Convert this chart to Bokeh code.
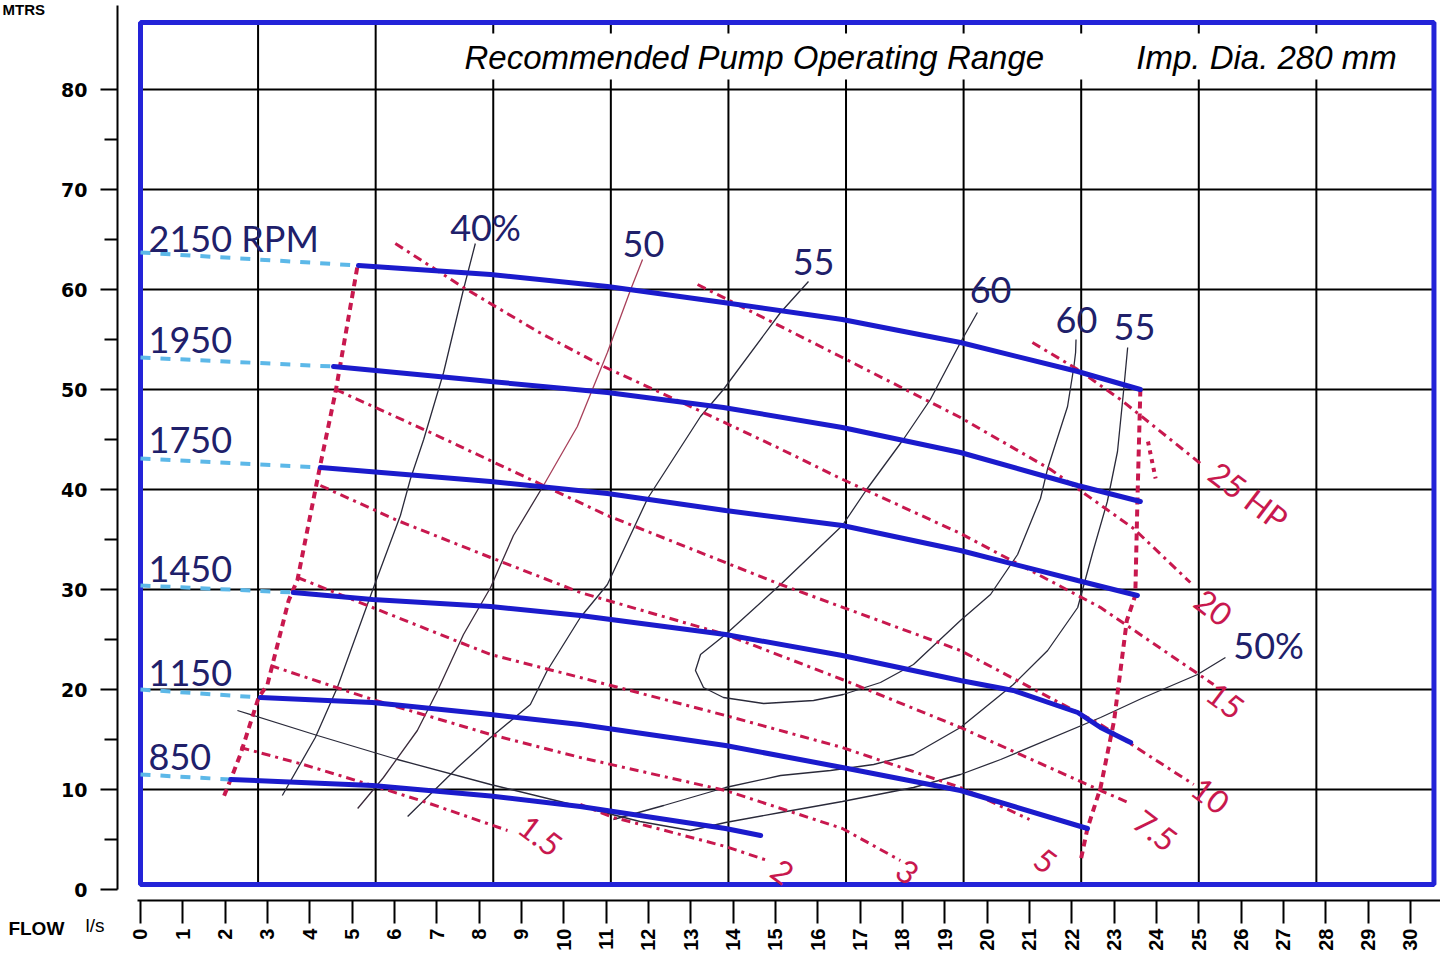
import math
from bokeh.plotting import figure
from bokeh.models import Range1d, FixedTicker
from bokeh.core.properties import value
from bokeh.embed import file_html
from bokeh.resources import INLINE

# ---------------- data (flow l/s, head m) ----------------
FLOW_TICKS = list(range(0, 31))
HEAD_TICKS = [0, 10, 20, 30, 40, 50, 60, 70, 80]
HEAD_MINOR = [5, 15, 25, 35, 45, 55, 65, 75]
GRID_M3H = [10, 20, 30, 40, 50, 60, 70, 80, 90, 100]   # vertical grid, m3/h
GRID_HEAD = [10, 20, 30, 40, 50, 60, 70, 80]
FRAME_M3H = 110

RPM_LABELS = ["2150 RPM", "1950", "1750", "1450", "1150", "850"]
RPM_LABEL_HEAD = [65.2, 55.0, 45.0, 32.1, 21.7, 13.3]

Q2150 = [5.15, 8.27, 11.03, 13.77, 16.58, 19.37, 22.14, 23.62]
H2150 = [62.4, 61.5, 60.3, 58.7, 57.0, 54.7, 51.8, 50.0]
Q1950 = [4.56, 8.27, 11.03, 13.77, 16.58, 19.37, 22.14, 23.62]
H1950 = [52.3, 50.8, 49.7, 48.2, 46.2, 43.7, 40.4, 38.8]
Q1750 = [4.25, 8.27, 11.03, 13.82, 16.58, 19.37, 22.14, 23.55]
H1750 = [42.2, 40.8, 39.6, 37.9, 36.4, 33.9, 30.9, 29.4]
Q1450 = [3.61, 5.48, 8.27, 10.39, 13.82, 16.58, 19.37, 20.62, 22.14, 22.68, 23.39]
H1450 = [29.7, 29.0, 28.3, 27.4, 25.5, 23.4, 20.9, 19.9, 17.7, 16.2, 14.7]
Q1150 = [2.83, 5.48, 8.27, 10.39, 13.82, 16.58, 19.37, 22.37]
H1150 = [19.2, 18.7, 17.5, 16.5, 14.4, 12.2, 9.9, 6.1]
Q850 = [2.13, 5.48, 8.27, 10.39, 13.82, 14.65]
H850 = [11.0, 10.4, 9.35, 8.3, 6.1, 5.4]
H_SHUTOFF = [63.7, 53.2, 43.1, 30.4, 20.0, 11.5]   # dashed part, head at zero flow

# operating range boundaries
QMIN = [5.12, 4.61, 4.25, 3.71, 3.5, 3.0, 2.79, 2.36, 2.13, 1.94]
HMIN = [62.2, 49.8, 42.5, 31.0, 28.9, 20.5, 19.2, 13.5, 11.0, 9.0]
QMAX = [23.62, 23.55, 23.5, 23.3, 23.0, 22.68, 22.37, 22.2]
HMAX = [50.0, 38.8, 29.4, 26.9, 16.9, 10.2, 6.1, 2.7]
QMAX2 = [23.8, 23.98]
HMAX2 = [44.8, 41.1]

# power lines (HP)
HP_LABELS = ["1.5", "2", "3", "5", "7.5", "10", "15", "20", "25 HP"]
Q_HP = [
    [2.36, 3.85, 5.48, 6.69, 8.67],
    [10.39, 11.17, 12.21, 13.82, 14.81],
    [3.07, 5.48, 8.27, 10.39, 13.82, 16.58, 17.95],
    [3.71, 5.48, 8.27, 10.39, 13.82, 16.58, 19.37, 21.0],
    [4.25, 6.07, 8.27, 10.39, 13.82, 16.58, 19.37, 22.68, 23.39],
    [4.61, 6.85, 11.03, 15.12, 19.37, 22.68, 24.88],
    [6.02, 7.63, 9.38, 10.94, 12.69, 14.95, 16.54, 19.37, 22.68, 25.35],
    [13.16, 16.58, 19.37, 21.5, 23.46, 24.8],
    [21.07, 22.14, 23.15, 25.04],
]
H_HP = [
    [14.2, 12.5, 10.4, 8.8, 5.9],
    [8.5, 7.2, 6.1, 4.3, 2.9],
    [22.4, 19.0, 15.5, 13.2, 9.9, 6.1, 2.9],
    [31.2, 28.2, 23.5, 21.2, 17.4, 14.2, 10.2, 7.0],
    [40.4, 36.9, 33.2, 29.7, 25.5, 21.0, 16.2, 9.9, 8.6],
    [50.0, 45.7, 37.4, 30.5, 23.9, 16.5, 10.5],
    [64.6, 60.2, 55.8, 52.3, 48.9, 44.4, 41.1, 35.6, 28.2, 20.5],
    [60.5, 53.2, 47.2, 42.0, 36.1, 30.7],
    [54.7, 52.0, 49.0, 42.6],
]
HP_LABEL_Q = [9.45, 15.17, 18.12, 21.38, 23.98, 25.28, 25.63, 25.35, 26.18]
HP_LABEL_H = [5.4, 1.8, 1.8, 2.9, 5.9, 9.4, 18.9, 28.2, 39.4]

# efficiency contours
EFF_LABELS = ["40%", "50", "55", "60", "60", "55", "50%"]
EFF_LABEL_Q = [8.15, 11.88, 15.9, 20.08, 22.11, 23.48, 26.65]
EFF_LABEL_H = [66.3, 64.6, 62.8, 60.0, 57.0, 56.3, 24.5]
Q_E40 = [7.91, 7.63, 7.16, 6.69, 6.38, 6.14, 5.48, 4.65, 4.13, 3.35]
H_E40 = [64.6, 60.0, 51.7, 45.0, 41.1, 37.4, 29.9, 20.2, 15.2, 9.4]
Q_E50 = [11.86, 11.58, 11.03, 10.32, 9.52, 8.81, 8.27, 7.63, 7.02, 6.54, 5.74, 5.13]
H_E50 = [63.0, 60.0, 53.7, 46.3, 40.4, 35.4, 30.2, 25.5, 19.9, 15.9, 11.2, 8.1]
Q_E55 = [15.78, 15.12, 13.77, 13.23, 11.98, 11.03, 10.39, 9.61, 9.21, 8.27, 7.49, 6.31]
H_E55 = [60.8, 57.7, 50.0, 47.3, 39.1, 30.5, 27.2, 21.9, 18.5, 15.2, 12.2, 7.3]
Q_E60 = [19.77, 19.37, 18.66, 18.02, 17.17, 16.58, 15.12, 13.82, 13.23, 13.11, 13.3, 13.77,
         14.72, 15.9, 16.6, 17.48, 18.26, 19.37, 20.08, 20.72, 21.26, 21.43, 21.9, 22.05,
         22.09, 22.1]
H_E60 = [57.7, 54.7, 49.0, 45.0, 40.1, 36.4, 30.5, 25.5, 23.5, 21.9, 20.2, 19.2,
         18.6, 18.9, 19.5, 20.7, 22.5, 26.9, 29.5, 33.5, 39.1, 42.1, 48.3, 52.3,
         53.7, 55.0]
Q_E55R = [23.32, 23.22, 23.08, 22.84, 22.5, 22.14, 21.43, 20.62, 19.37, 18.26, 17.32,
          16.3, 15.12, 13.82, 12.36, 11.17]
H_E55R = [54.2, 49.7, 43.8, 38.8, 33.8, 28.2, 23.9, 20.5, 16.2, 13.5, 12.5,
          11.9, 11.4, 10.2, 8.4, 7.0]
Q_E50P = [2.29, 4.18, 6.07, 8.27, 10.39, 11.8, 12.99, 13.82, 15.12, 16.58, 18.26, 19.37,
          20.32, 22.68, 23.7, 24.97, 25.63]
H_E50P = [17.9, 15.4, 13.0, 10.5, 8.3, 6.8, 5.9, 6.7, 7.7, 8.8, 10.2, 11.5,
          13.0, 17.2, 19.2, 21.5, 23.2]

# ---------------- styles ----------------
BLUE = "#1b1bcc"
FRAME_BLUE = "#2323d8"
LIGHT_BLUE = "#5cb8e8"
RED = "#c8184e"
NAVY = "#20206a"

p = figure(width=1440, height=956, output_backend="svg", toolbar_location=None,
           x_range=Range1d(-0.543, 30.71), y_range=Range1d(-1.1, 88.9),
           min_border_left=117, min_border_right=0, min_border_top=0,
           min_border_bottom=56)
p.grid.visible = False
p.outline_line_color = None
p.background_fill_color = "white"
p.border_fill_color = "white"

# axes
xa = p.xaxis[0]
xa.ticker = FixedTicker(ticks=FLOW_TICKS)
xa.bounds = (-0.07, 30.7)
xa.major_label_orientation = math.pi / 2
xa.major_tick_out = 23
xa.major_tick_in = 0
xa.minor_tick_out = 0
xa.axis_line_width = 2
xa.major_tick_line_width = 2
xa.major_label_standoff = 5
xa.major_label_text_font = "Liberation Sans"
xa.major_label_text_font_style = "bold"
xa.major_label_text_font_size = "20px"
xa.major_label_text_color = "black"

ya = p.yaxis[0]
ya.ticker = FixedTicker(ticks=HEAD_TICKS, minor_ticks=HEAD_MINOR)
ya.bounds = (0, 88.4)
ya.major_tick_out = 17
ya.major_tick_in = 0
ya.minor_tick_out = 13
ya.minor_tick_in = 0
ya.axis_line_width = 2
ya.major_tick_line_width = 2
ya.minor_tick_line_width = 2
ya.major_label_standoff = 13
ya.major_label_text_font = "DejaVu Sans"
ya.major_label_text_font_style = "bold"
ya.major_label_text_font_size = "19px"
ya.major_label_text_color = "black"

frame_right = FRAME_M3H / 3.6
# grid (m3/h verticals, metre horizontals)
vx = [g / 3.6 for g in GRID_M3H]
p.segment(x0=vx, y0=[0.5] * len(vx), x1=vx, y1=[86.7] * len(vx),
          line_color="black", line_width=2)
p.segment(x0=[0] * len(GRID_HEAD), y0=GRID_HEAD, x1=[frame_right] * len(GRID_HEAD),
          y1=GRID_HEAD, line_color="black", line_width=2)
# title band
p.quad(left=[6.14], right=[30.36], bottom=[81.0], top=[85.6],
       fill_color="white", line_color=None)
# frame box
p.quad(left=[0], right=[frame_right], bottom=[0.5], top=[86.7],
       fill_color=None, line_color=FRAME_BLUE, line_width=5)

# efficiency contours
for q, h in [(Q_E40, H_E40), (Q_E55, H_E55), (Q_E60, H_E60), (Q_E55R, H_E55R),
             (Q_E50P, H_E50P)]:
    p.line(q, h, line_color="#2a2a3a", line_width=1.3)
p.line(Q_E50[:5], H_E50[:5], line_color="#a8405a", line_width=1.3)
p.line(Q_E50[4:], H_E50[4:], line_color="#3a2a3a", line_width=1.3)

# power lines
for q, h in zip(Q_HP, H_HP):
    p.line(q, h, line_color=RED, line_width=3, line_dash="9 5 3 5")

# operating range boundaries
p.line(QMIN, HMIN, line_color=RED, line_width=4, line_dash="7 5")
p.line(QMAX, HMAX, line_color=RED, line_width=4, line_dash="7 5")
p.line(QMAX2, HMAX2, line_color=RED, line_width=4, line_dash="4 5")

# head curves
curves = [(Q2150, H2150), (Q1950, H1950), (Q1750, H1750), (Q1450, H1450),
          (Q1150, H1150), (Q850, H850)]
for (q, h), h0 in zip(curves, H_SHUTOFF):
    p.line([0, q[0]], [h0, h[0]], line_color=LIGHT_BLUE, line_width=4, line_dash="10 10")
    p.line(q, h, line_color=BLUE, line_width=5, line_cap="round")

# texts
p.text(x=[0.19] * len(RPM_LABELS), y=RPM_LABEL_HEAD, text=RPM_LABELS,
       text_font=value("Lato"), text_font_size="36px", text_color=NAVY,
       text_align="left", text_baseline="middle")
p.text(x=EFF_LABEL_Q, y=EFF_LABEL_H, text=EFF_LABELS,
       text_font=value("Lato"), text_font_size="36px", text_color=NAVY,
       text_align="center", text_baseline="middle")
p.text(x=HP_LABEL_Q, y=HP_LABEL_H, text=HP_LABELS, angle=-0.65,
       text_font=value("Lato"), text_font_size="32px", text_color=RED,
       text_align="center", text_baseline="middle")
p.text(x=[14.5, 26.6], y=[83.2, 83.2],
       text=["Recommended Pump Operating Range", "Imp. Dia. 280 mm"],
       text_font=value("Liberation Sans"), text_font_style="italic",
       text_font_size="33px", text_color="black",
       text_align="center", text_baseline="middle")

# texts outside the frame (drawn at overlay level so they are not clipped)
r0 = p.text(x=[-3.26], y=[88.0], text=["MTRS"],
            text_font=value("Liberation Sans"), text_font_style="bold",
            text_font_size="15px", text_color="black",
            text_align="left", text_baseline="middle")
r0.level = "overlay"
r1 = p.text(x=[-3.12], y=[-3.9], text=["FLOW"],
            text_font=value("Liberation Sans"), text_font_style="bold",
            text_font_size="19px", text_color="black",
            text_align="left", text_baseline="middle")
r1.level = "overlay"
r2 = p.text(x=[-1.3], y=[-3.6], text=["l/s"],
            text_font=value("Liberation Sans"), text_font_size="19px",
            text_color="black", text_align="left", text_baseline="middle")
r2.level = "overlay"

open("out.html", "w").write(file_html(p, INLINE))
